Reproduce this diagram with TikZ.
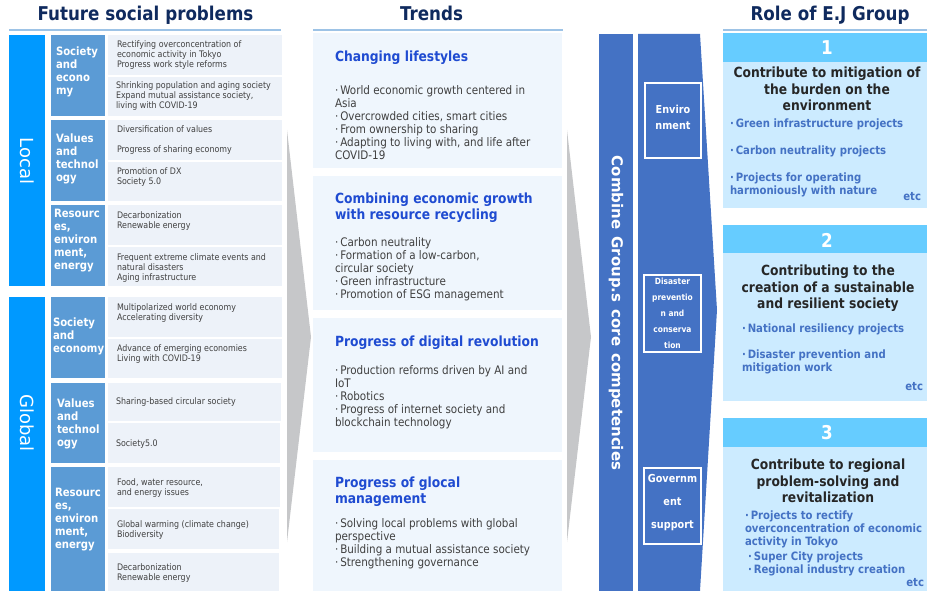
\documentclass[tikz,border=0pt]{standalone}
\usepackage{fontspec}
\setmainfont{DejaVu Sans}[FakeStretch=0.88]
\newfontfamily\plainfont{DejaVu Sans}
\definecolor{navy}{HTML}{0F2A5E}
\definecolor{rulecol}{HTML}{9DC3E6}
\definecolor{areablue}{HTML}{0099FF}
\definecolor{catblue}{HTML}{5B9BD5}
\definecolor{itemfill}{HTML}{EDF2F9}
\definecolor{trendfill}{HTML}{EFF6FD}
\definecolor{trendblue}{HTML}{1F4BD1}
\definecolor{txt}{HTML}{404040}
\definecolor{arrowgray}{HTML}{C6C7C9}
\definecolor{band}{HTML}{4472C4}
\definecolor{rolehead}{HTML}{66CCFF}
\definecolor{rolebody}{HTML}{CCEBFF}
\definecolor{titlecol}{HTML}{262626}
\definecolor{itemblue}{HTML}{4472C4}
\begin{document}
\begin{tikzpicture}[x=1pt,y=-1pt,
  every node/.style={inner sep=0pt,outer sep=0pt},
  head/.style={anchor=base,text=navy,font=\fontsize{19}{22}\selectfont\bfseries},
  rule/.style={draw=rulecol,line width=2pt},
  area/.style={rotate=-90,text=white,font=\plainfont\fontsize{18}{20}\selectfont},
  cat/.style={anchor=north west,align=left,text=white,font=\fontsize{11.5}{13}\selectfont\bfseries},
  item/.style={anchor=north west,align=left,text=txt,font=\fontsize{9}{10}\selectfont},
  ttitle/.style={anchor=north west,align=left,text=trendblue,font=\fontsize{14}{16}\selectfont\bfseries},
  tbody/.style={anchor=north west,align=left,text=txt,font=\fontsize{11.8}{13}\selectfont},
  field/.style={draw=white,line width=1.5pt},
  fieldtext/.style={align=center,text=white,font=\fontsize{11}{16}\selectfont\bfseries},
  num/.style={text=white,font=\fontsize{19}{22}\selectfont\bfseries},
  rtitle/.style={anchor=north,align=center,text=titlecol,font=\fontsize{14}{16.5}\selectfont\bfseries},
  ritem/.style={anchor=north west,align=left,text=itemblue,font=\fontsize{11.5}{13}\selectfont\bfseries},
  etc/.style={anchor=east,text=itemblue,font=\fontsize{11.5}{13}\selectfont\bfseries},
]
\useasboundingbox (0,0) rectangle (927,591);

% ---- column headings ----
\node[head] (hfuture) at (145.5,20.5) {Future social problems};
\node[head] (htrends) at (431.5,20.5) {Trends};
\node[head] (hrole)   at (830,20.5) {Role of E.J Group};
\draw[rule] (9,30) -- (281,30);
\draw[rule] (313,30) -- (563,30);
\draw[rule] (723,30) -- (927,30);

% ---- future social problems ----
\fill[areablue] (9,35) rectangle (45,286);
\fill[areablue] (9,297) rectangle (45,591);
\node[area] (local) at (27,161) {Local};
\node[area] (global) at (27,423) {Global};

\fill[catblue] (51,35) rectangle (105,116);
\fill[catblue] (51,120) rectangle (105,201);
\fill[catblue] (51,205) rectangle (105,286);
\fill[catblue] (51,297) rectangle (105,378);
\fill[catblue] (51,383) rectangle (105,463);
\fill[catblue] (51,467) rectangle (105,591);

\node[cat] (c1) at (56,47) {Society\\and\\econo\\my};
\node[cat] (c2) at (56,134) {Values\\and\\technol\\ogy};
\node[cat] (c3) at (54,209) {Resourc\\es,\\environ\\ment,\\energy};
\node[cat] (c4) at (53,318) {Society\\and\\economy};
\node[cat] (c5) at (57,399) {Values\\and\\technol\\ogy};
\node[cat] (c6) at (55,488) {Resourc\\es,\\environ\\ment,\\energy};

\fill[itemfill] (108,35) rectangle (282,75);
\fill[itemfill] (108,77) rectangle (282,116);
\fill[itemfill] (108,120) rectangle (282,160);
\fill[itemfill] (108,162) rectangle (282,201);
\fill[itemfill] (108,205) rectangle (282,245);
\fill[itemfill] (108,247) rectangle (282,286);
\fill[itemfill] (108,297) rectangle (282,337);
\fill[itemfill] (108,339) rectangle (282,378);
\fill[itemfill] (108,383) rectangle (281,421);
\fill[itemfill] (108,423) rectangle (280,463);
\fill[itemfill] (108,467) rectangle (280,507);
\fill[itemfill] (108,509) rectangle (279,549);
\fill[itemfill] (108,553) rectangle (279,591);

\node[item] (p1) at (117,41) {Rectifying overconcentration of\\economic activity in Tokyo\\Progress work style reforms};
\node[item] (p2) at (116,82) {Shrinking population and aging society\\Expand mutual assistance society,\\living with COVID-19};
\node[item] (p3) at (117,126) {Diversification of values\\[10pt]Progress of sharing economy};
\node[item] (p4) at (117,168) {Promotion of DX\\Society 5.0};
\node[item] (p5) at (117,212) {Decarbonization\\Renewable energy};
\node[item] (p6) at (117,254) {Frequent extreme climate events and\\natural disasters\\Aging infrastructure};
\node[item] (p7) at (117,304) {Multipolarized world economy\\Accelerating diversity};
\node[item] (p8) at (117,345) {Advance of emerging economies\\Living with COVID-19};
\node[item] (p9) at (116,398) {Sharing-based circular society};
\node[item] (p10) at (116,440) {Society5.0};
\node[item] (p11) at (117,479) {Food, water resource,\\and energy issues};
\node[item] (p12) at (117,521) {Global warming (climate change)\\Biodiversity};
\node[item] (p13) at (117,564) {Decarbonization\\Renewable energy};

% ---- flow arrows ----
\fill[arrowgray] (287,130) -- (311,337) -- (287,542) -- cycle;
\fill[arrowgray] (567,130) -- (591,337) -- (567,542) -- cycle;

% ---- trends ----
\fill[trendfill] (313,33) rectangle (562,168);
\fill[trendfill] (313,176) rectangle (562,310);
\fill[trendfill] (313,318) rectangle (562,452);
\fill[trendfill] (313,460) rectangle (562,591);

\node[ttitle] (t1) at (335,51) {Changing lifestyles};
\node[tbody] (b1) at (335,86) {·\,World economic growth centered in\\Asia\\·\,Overcrowded cities, smart cities\\·\,From ownership to sharing\\·\,Adapting to living with, and life after\\COVID-19};
\node[ttitle] (t2) at (335,193) {Combining economic growth\\with resource recycling};
\node[tbody] (b2) at (335,238) {·\,Carbon neutrality\\·\,Formation of a low-carbon,\\circular society\\·\,Green infrastructure\\·\,Promotion of ESG management};
\node[ttitle] (t3) at (335,336) {Progress of digital revolution};
\node[tbody] (b3) at (335,366) {·\,Production reforms driven by AI and\\IoT\\·\,Robotics\\·\,Progress of internet society and\\blockchain technology};
\node[ttitle] (t4) at (335,477) {Progress of glocal\\management};
\node[tbody] (b4) at (335,519) {·\,Solving local problems with global\\perspective\\·\,Building a mutual assistance society\\·\,Strengthening governance};

% ---- core competencies ----
\fill[band] (599,34) rectangle (633,591);
\node[rotate=-90,text=white,font=\plainfont\fontsize{15}{18}\selectfont\bfseries] (core) at (616,313)
  {Combine\hspace{7pt}Group.s\hspace{7pt}core\hspace{7pt}competencies};
\fill[band] (638,34) -- (700,34) -- (717,310) -- (700,591) -- (638,591) -- cycle;
\draw[field] (645,83) rectangle (701,158);
\draw[field] (644,275) rectangle (701,352);
\draw[field] (644,468) rectangle (701,544);
\node[fieldtext] (env) at (673,117) {Enviro\\nment};
\node[fieldtext,font=\fontsize{8.5}{16}\selectfont\bfseries] (dis) at (672.5,313) {Disaster\\preventio\\n and\\conserva\\tion};
\node[fieldtext,font=\fontsize{11}{23}\selectfont\bfseries] (gov) at (672.5,503) {Governm\\ent\\support};

% ---- role of the group ----
\fill[rolehead] (723,33) rectangle (927,62);
\fill[rolebody] (723,62) rectangle (927,208);
\fill[rolehead] (723,225) rectangle (927,253);
\fill[rolebody] (723,253) rectangle (927,401);
\fill[rolehead] (723,418) rectangle (927,447);
\fill[rolebody] (723,447) rectangle (927,591);

\node[num] (n1) at (827,48) {1};
\node[rtitle] (r1) at (827,67) {Contribute to mitigation of\\the burden on the\\environment};
\node[ritem] (r1a) at (730,119) {·\,Green infrastructure projects};
\node[ritem] (r1b) at (730,146) {·\,Carbon neutrality projects};
\node[ritem] (r1c) at (730,173) {·\,Projects for operating\\harmoniously with nature};
\node[etc] (e1) at (921,197) {etc};

\node[num] (n2) at (827,240) {2};
\node[rtitle] (r2) at (828,265) {Contributing to the\\creation of a sustainable\\and resilient society};
\node[ritem] (r2a) at (742,324) {·\,National resiliency projects};
\node[ritem] (r2b) at (742,350) {·\,Disaster prevention and\\mitigation work};
\node[etc] (e2) at (923,387) {etc};

\node[num] (n3) at (827,433) {3};
\node[rtitle] (r3) at (828,459) {Contribute to regional\\problem-solving and\\revitalization};
\node[ritem] (r3a) at (745,511) {·\,Projects to rectify\\overconcentration of economic\\activity in Tokyo};
\node[ritem] (r3b) at (748,552) {·\,Super City projects\\·\,Regional industry creation};
\node[etc] (e3) at (924,583) {etc};
\end{tikzpicture}
\end{document}
